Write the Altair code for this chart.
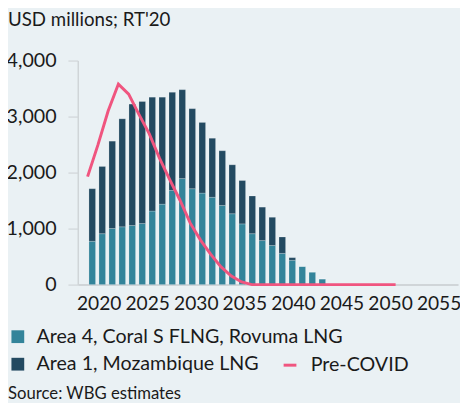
import altair as alt
import pandas as pd

# ---- data ----
bar_years = list(range(2020, 2044))
area4 = [773, 909, 1002, 1032, 1055, 1090, 1313, 1436, 1682, 1893, 1712, 1634,
         1559, 1413, 1265, 1084, 909, 786, 698, 557, 434, 323, 223, 100]
area1 = [939, 1200, 1559, 1928, 2168, 2179, 2033, 1910, 1752, 1587, 1429, 1261,
         1054, 977, 874, 774, 673, 597, 504, 293, 47, 0, 0, 0]
line_years = list(range(2020, 2051))
pre_covid = [1928, 2490, 3100, 3580, 3400, 3040, 2696, 2258, 1875, 1506, 1097,
             794, 540, 316, 153, 47] + [0] * 15
tick_years = [2020, 2025, 2030, 2035, 2040, 2045, 2050, 2055]
y_ticks = [0, 1000, 2000, 3000, 4000]

S4 = "Area 4, Coral S FLNG, Rovuma LNG"
S1 = "Area 1, Mozambique LNG"
SP = "Pre-COVID"
TITLE = "USD millions; RT'20"
SOURCE = "Source: WBG estimates"

TEAL = "#33849A"
NAVY = "#234A61"
PINK = "#F0557F"
BG = "#EAF1F4"
AXC = "#D0D5D8"
TXT = "#1A1A1A"
FONT = "Lato"
FS = 20

bars_df = pd.DataFrame(
    [{"year": y, "series": S4, "value": v, "ord": 0} for y, v in zip(bar_years, area4)]
    + [{"year": y, "series": S1, "value": v, "ord": 1} for y, v in zip(bar_years, area1)]
)
line_df = pd.DataFrame({"year": line_years, "value": pre_covid, "series2": SP})
tick_df = pd.DataFrame({"tick": tick_years})
title_df = pd.DataFrame({"t": [TITLE]})
src_df = pd.DataFrame({"t": [SOURCE]})

data_x = alt.Scale(domain=[2019.043, 2056.08], nice=False, zero=False)
y_scale = alt.Scale(domain=[0, 4000], nice=False)

y_axis = alt.Axis(values=y_ticks, format=",.0f", tickSize=10, tickColor=AXC, tickWidth=1.2,
                  domainColor=AXC, domainWidth=1.5, labelFont=FONT, labelFontSize=FS,
                  labelColor=TXT, labelPadding=12, grid=False, title=None)

bars = alt.Chart(bars_df).mark_bar(size=6.7, stroke="white", strokeWidth=0.6,
                                   strokeOpacity=0.35).encode(
    x=alt.X("year:Q", scale=data_x, axis=None),
    y=alt.Y("value:Q", stack="zero", scale=y_scale, axis=y_axis),
    color=alt.Color("series:N", scale=alt.Scale(domain=[S4, S1], range=[TEAL, NAVY]),
                    legend=alt.Legend(title=None, orient="none", legendX=-71, legendY=271,
                                      direction="vertical", symbolType="square",
                                      symbolSize=169, symbolStrokeWidth=0,
                                      labelFont=FONT, labelFontSize=FS, labelColor=TXT,
                                      labelOffset=9, rowPadding=8, labelLimit=0,
                                      padding=0)),
    order=alt.Order("ord:Q", sort="ascending"),
)

line = alt.Chart(line_df).mark_line(strokeWidth=3).encode(
    x=alt.X("year:Q", scale=data_x, axis=None),
    y=alt.Y("value:Q", scale=y_scale),
    stroke=alt.Stroke("series2:N", scale=alt.Scale(domain=[SP], range=[PINK]),
                      legend=alt.Legend(title=None, orient="none", legendX=206, legendY=300,
                                        symbolType="stroke", symbolSize=169,
                                        symbolStrokeWidth=3, labelFont=FONT,
                                        labelFontSize=FS, labelColor=TXT,
                                        labelOffset=11, labelLimit=0, padding=0)),
)

axis_layer = alt.Chart(tick_df).mark_point(opacity=0).encode(
    x=alt.X("tick:Q", scale=alt.Scale(domain=[2017.85, 2057.0], nice=False, zero=False),
            axis=alt.Axis(values=tick_years, format="d", ticks=False, grid=False,
                          orient="bottom", domainColor=AXC, domainWidth=2,
                          labelFont=FONT, labelFontSize=19.5, labelColor=TXT,
                          labelPadding=10, title=None)),
    y=alt.value(228),
)

title = alt.Chart(title_df).mark_text(align="left", baseline="alphabetic", font=FONT,
                                      fontSize=19, color=TXT).encode(
    text="t:N", x=alt.value(-71), y=alt.value(-35))

source = alt.Chart(src_df).mark_text(align="left", baseline="alphabetic", font=FONT,
                                     fontSize=17, color=TXT).encode(
    text="t:N", x=alt.value(-71), y=alt.value(344.5))

chart = alt.layer(bars, line, axis_layer, title, source).resolve_scale(x="independent").properties(
    width=387, height=228,
    autosize=alt.AutoSizeParams(type="none"),
    padding={"left": 71, "top": 50, "right": 2, "bottom": 117},
    background=BG,
).configure_view(stroke=None)

chart.save("out.html", embed_options={"renderer": "svg", "actions": False})
